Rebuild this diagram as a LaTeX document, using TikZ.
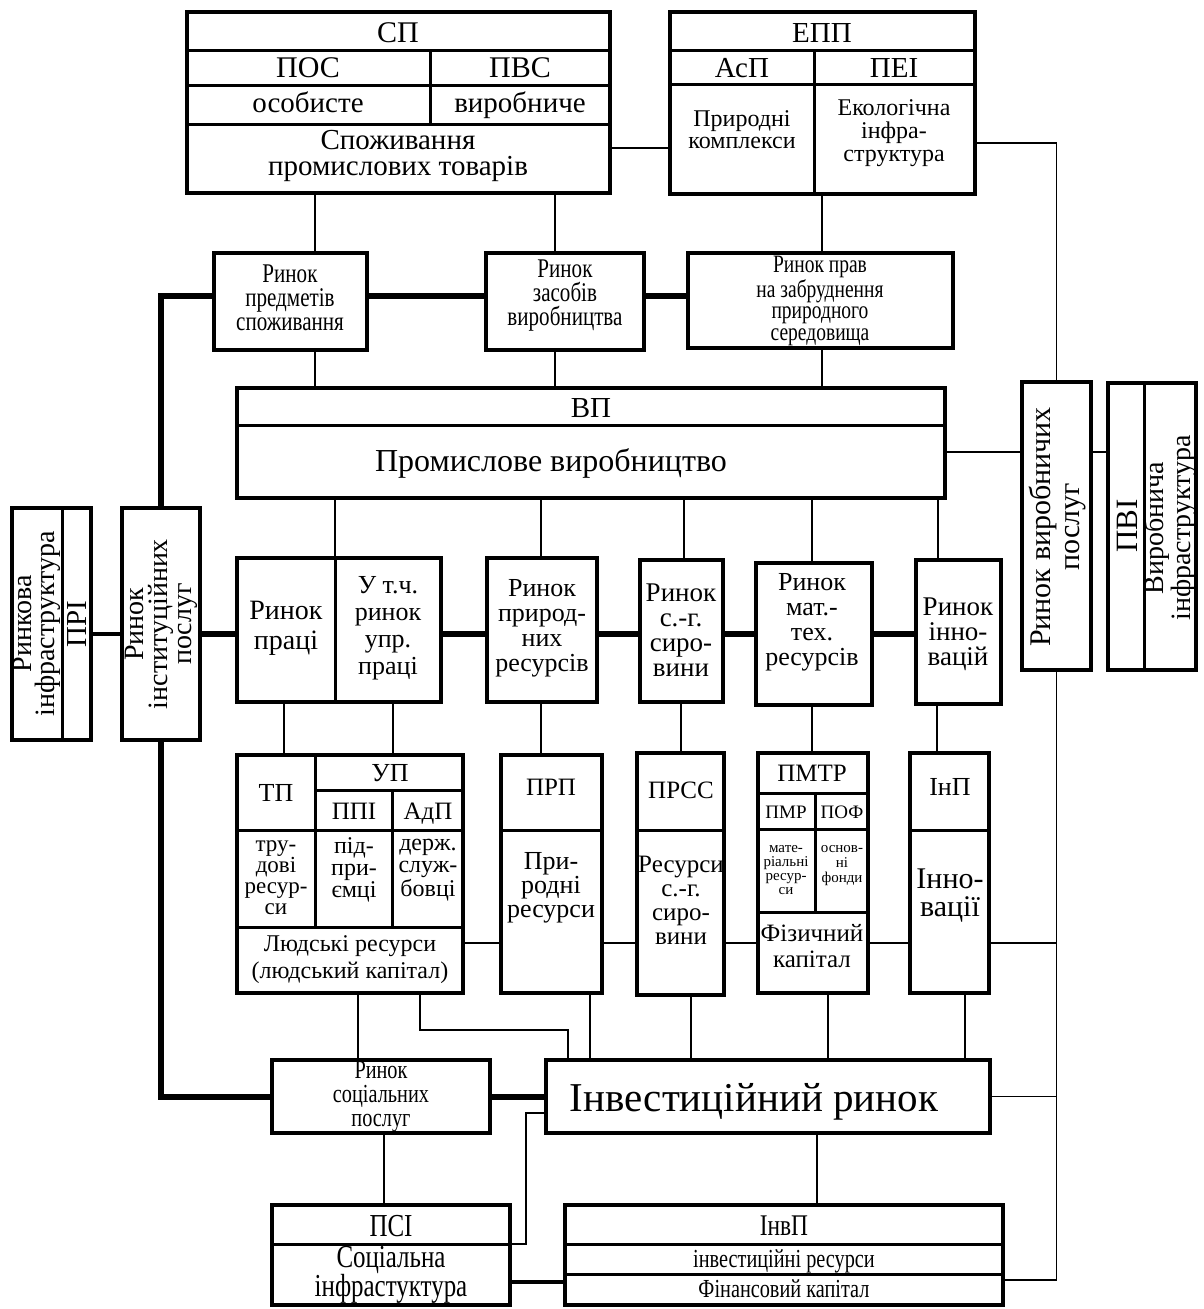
\documentclass[tikz,border=0pt]{standalone}
\usepackage{fontspec}
\setmainfont{Liberation Serif}
\newfontfamily\cond[FakeStretch=0.78]{Liberation Serif}
\newcommand\myf[2]{\fontsize{#1}{#2}\selectfont}
\newcommand\mybox[5]{\node[box, minimum width={(#4)-(#2)}, minimum height={(#5)-(#3)}] (#1) at ({((#2)+(#4))/2},{((#3)+(#5))/2}) {};}
\begin{document}
\begin{tikzpicture}[x=1pt,y=-1pt,
  box/.style={draw, line width=3.6pt, inner sep=0pt, outer sep=0pt},
  txt/.style={align=center, inner sep=0pt},
  btxt/.style={inner sep=0pt, anchor=base},
  divl/.style={line width=3pt},
  thinl/.style={line width=1.6pt},
  thickl/.style={line width=6pt},
  midl/.style={line width=3.6pt}]
\fill[white] (0,0) rectangle (1204,1309);
\useasboundingbox (0,0) rectangle (1204,1309);
% helper coordinates
\foreach \xx in {315,555,822,335,541,684,812,938,284,393,681,937,358,420,568,590,691,828,965,384,817,526}{\coordinate (X\xx) at (\xx,0);}
\foreach \yy in {143,148,296,452,634,943,1030,1113,1244,1280,1282}{\coordinate (Y\yy) at (0,\yy);}

% ---------- top boxes
\mybox{sp}{187}{12}{610}{193}
\draw[divl] (187,50) -- (610,50) (187,85) -- (610,85) (187,124) -- (610,124) (430,50) -- (430,124);
\node[btxt,font=\myf{30}{28}] (tsp) at (398,42) {СП};
\node[btxt,font=\myf{30}{28}] (tpos) at (308,77) {ПОС};
\node[btxt,font=\myf{30}{28}] (tpvs) at (520,77) {ПВС};
\node[btxt,font=\myf{29}{28}] (tos) at (308,112) {особисте};
\node[btxt,font=\myf{29}{28}] (tvyr) at (520,112) {виробниче};
\node[txt,font=\myf{29}{26}] (tspoz) at (398,156) {Споживання\\промислових товарів};

\mybox{epp}{670}{12}{975}{194}
\draw[divl] (670,50) -- (975,50) (670,84) -- (975,84) (814,50) -- (814,194);
\node[btxt,font=\myf{29}{28}] (tepp) at (822,42) {ЕПП};
\node[btxt,font=\myf{29}{28}] (tasp) at (742,77) {АсП};
\node[btxt,font=\myf{29}{28}] (tpei) at (894,77) {ПЕІ};
\node[txt,font=\myf{24}{22}] (tprk) at (742,130) {Природні\\комплекси};
\node[txt,font=\myf{24}{23}] (teko) at (894,133) {Екологічна\\інфра-\\структура};

% ---------- second row markets
\mybox{rpc}{214}{253}{367}{350}
\node[txt,font=\cond\myf{27}{24}] (trpc) at (290,298) {Ринок\\предметів\\споживання};
\mybox{rzv}{486}{253}{644}{350}
\node[txt,font=\cond\myf{27}{24}] (trzv) at (565,296) {Ринок\\засобів\\виробництва};
\mybox{rpz}{688}{253}{953}{348}
\node[txt,font=\cond\myf{25}{21.5}] (trpz) at (820,301) {Ринок прав\\на забруднення\\природного\\середовища};

% ---------- VP
\mybox{vp}{237}{388}{945}{498}
\draw[divl] (237,425) -- (945,425);
\node[btxt,font=\myf{29}{28}] (tvp) at (591,417) {ВП};
\node[btxt,font=\myf{32}{30}] (tpv) at (551,471) {Промислове виробництво};

% ---------- left vertical boxes
\mybox{ip}{122}{508}{200}{740}
\node[txt,rotate=90,font=\myf{28}{24}] (tip) at (161,624) {Ринок\\інституційних\\послуг};
\mybox{pri}{12}{508}{91}{740}
\draw[divl] (62,508) -- (62,740);
\node[txt,rotate=90,font=\myf{28}{23}] (tpri1) at (37,624) {Ринкова\\інфраструктура};
\node[txt,rotate=90,font=\myf{29}{28}] (tpri2) at (77,624) {ПРІ};

% ---------- right vertical boxes
\mybox{rvp}{1022}{382}{1091}{670}
\node[txt,rotate=90,font=\myf{30}{29}] (trvp) at (1057,527) {Ринок виробничих\\послуг};
\mybox{pvi}{1108}{383}{1196}{670}
\draw[divl] (1144,383) -- (1144,670);
\node[txt,rotate=90,font=\myf{31}{28}] (tpvi1) at (1127,526) {ПВІ};
\node[txt,rotate=90,font=\myf{28}{25}] (tpvi2) at (1170,528) {Виробнича\\інфраструктура};

% ---------- markets row
\mybox{rp}{237}{558}{441}{702}
\draw[divl] (335,558) -- (335,702);
\node[txt,font=\myf{28}{30}] (trp1) at (286,628) {Ринок\\праці};
\node[txt,font=\myf{26}{27}] (trp2) at (388,628) {У т.ч.\\ринок\\упр.\\праці};
\mybox{rpr}{487}{558}{597}{702}
\node[txt,font=\myf{26}{25}] (trpr) at (542,628) {Ринок\\природ-\\них\\ресурсів};
\mybox{rsg}{640}{560}{723}{702}
\node[txt,font=\myf{27}{25}] (trsg) at (681,630) {Ринок\\с.-г.\\сиро-\\вини};
\mybox{rmt}{756}{563}{872}{705}
\node[txt,font=\myf{26}{25}] (trmt) at (812,622) {Ринок\\мат.-\\тех.\\ресурсів};
\mybox{rin}{916}{560}{1001}{704}
\node[txt,font=\myf{27}{25}] (trin) at (958,634) {Ринок\\інно-\\вацій};

% ---------- lower boxes
\mybox{tp}{237}{755}{463}{993}
\draw[divl] (237,830) -- (463,830) (237,927) -- (463,927) (315,755) -- (315,927) (392,790) -- (392,927) (315,790) -- (463,790);
\node[btxt,font=\myf{26}{26}] (ttp) at (276,801) {ТП};
\node[btxt,font=\myf{26}{26}] (tup) at (390,781) {УП};
\node[btxt,font=\myf{25}{26}] (tppi) at (354,819) {ППІ};
\node[btxt,font=\myf{25}{26}] (tadp) at (428,819) {АдП};
\node[txt,font=\myf{23}{21}] (ttr) at (276,878) {тру-\\дові\\ресур-\\си};
\node[txt,font=\myf{24}{22}] (tpid) at (354,870) {під-\\при-\\ємці};
\node[txt,font=\myf{24}{22}] (tder) at (428,870) {держ.\\служ-\\бовці};
\node[txt,font=\myf{24}{27}] (tlud) at (350,960) {Людські ресурси\\(людський капітал)};

\mybox{prp}{501}{755}{602}{993}
\draw[divl] (501,830) -- (602,830);
\node[btxt,font=\myf{25}{26}] (tprp) at (551,795) {ПРП};
\node[txt,font=\myf{26}{24}] (tprr) at (551,888) {При-\\родні\\ресурси};

\mybox{prss}{637}{753}{724}{995}
\draw[divl] (637,830) -- (724,830);
\node[btxt,font=\myf{25}{26}] (tprss) at (681,798) {ПРСС};
\node[txt,font=\myf{25}{24}] (trss) at (681,900) {Ресурси\\с.-г.\\сиро-\\вини};

\mybox{pmtr}{758}{753}{868}{993}
\draw[divl] (758,793) -- (868,793) (758,829) -- (868,829) (758,912) -- (868,912) (815,793) -- (815,912);
\node[btxt,font=\myf{25}{26}] (tpmtr) at (812,781) {ПМТР};
\node[btxt,font=\myf{19}{20}] (tpmr) at (786,818) {ПМР};
\node[btxt,font=\myf{19}{20}] (tpof) at (842,818) {ПОФ};
\node[txt,font=\myf{15}{14}] (tmat) at (786,870) {мате-\\ріальні\\ресур-\\си};
\node[txt,font=\myf{15}{15}] (tosn) at (842,866) {основ-\\ні\\фонди};
\node[txt,font=\myf{25}{26}] (tfiz) at (812,946) {Фізичний\\капітал};

\mybox{inp}{910}{753}{989}{993}
\draw[divl] (910,830) -- (989,830);
\node[btxt,font=\myf{26}{26}] (tinp) at (950,795) {ІнП};
\node[txt,font=\myf{30}{28}] (tinn) at (950,896) {Інно-\\вації};

% ---------- bottom row
\mybox{rsp}{272}{1060}{490}{1133}
\node[txt,font=\cond\myf{26}{24}] (trsp) at (381,1097) {Ринок\\соціальних\\послуг};
\mybox{ir}{546}{1060}{990}{1133}
\node[btxt,font=\myf{41}{40}] (tir) at (754,1111) {Інвестиційний ринок};

\mybox{psi}{272}{1205}{510}{1305}
\draw[divl] (272,1244) -- (510,1244);
\node[btxt,font=\cond\myf{32}{28}] (tpsi) at (391,1236) {ПСІ};
\node[txt,font=\cond\myf{32}{27}] (tsoc) at (391,1275) {Соціальна\\інфрастуктура};

\mybox{invp}{565}{1205}{1003}{1305}
\draw[divl] (565,1244) -- (1003,1244) (565,1274) -- (1003,1274);
\node[btxt,font=\cond\myf{30}{28}] (tinvp) at (784,1235) {ІнвП};
\node[btxt,font=\cond\myf{26}{26}] (tinvr) at (784,1267) {інвестиційні ресурси};
\node[btxt,font=\cond\myf{26}{26}] (tfin) at (784,1297) {Фінансовий капітал};

% ================= connectors
% top
\draw[thinl] (sp.east |- Y148) -- (epp.west |- Y148);
\draw[thinl] (X315 |- sp.south) -- (X315 |- rpc.north);
\draw[thinl] (X555 |- sp.south) -- (X555 |- rzv.north);
\draw[thinl] (X822 |- epp.south) -- (X822 |- rpz.north);
\draw[thinl] (X315 |- rpc.south) -- (X315 |- vp.north);
\draw[thinl] (X555 |- rzv.south) -- (X555 |- vp.north);
\draw[thinl] (X822 |- rpz.south) -- (X822 |- vp.north);
\draw[thickl] (rpc.east |- Y296) -- (rzv.west |- Y296);
\draw[thickl] (rzv.east |- Y296) -- (rpz.west |- Y296);
\draw[thickl] (rpc.west |- Y296) -| (ip.north);
\draw[thickl] (ip.south) |- (rsp.west);
\draw[midl] (pri.east |- Y634) -- (ip.west |- Y634);
% right spine
\draw[thinl] (epp.east |- Y143) -| (rvp.north);
\draw[thinl] (rvp.south) |- (invp.east |- Y1280);
\draw[thinl] (vp.east |- Y452) -- (rvp.west |- Y452);
\draw[thinl] (rvp.east |- Y452) -- (pvi.west |- Y452);
% markets row
\draw[thickl] (ip.east |- Y634) -- (rp.west |- Y634);
\draw[thickl] (rp.east |- Y634) -- (rpr.west |- Y634);
\draw[thickl] (rpr.east |- Y634) -- (rsg.west |- Y634);
\draw[thickl] (rsg.east |- Y634) -- (rmt.west |- Y634);
\draw[thickl] (rmt.east |- Y634) -- (rin.west |- Y634);
\draw[thinl] (X335 |- vp.south) -- (X335 |- rp.north);
\draw[thinl] (X541 |- vp.south) -- (X541 |- rpr.north);
\draw[thinl] (X684 |- vp.south) -- (X684 |- rsg.north);
\draw[thinl] (X812 |- vp.south) -- (X812 |- rmt.north);
\draw[thinl] (X938 |- vp.south) -- (X938 |- rin.north);
\draw[thinl] (X284 |- rp.south) -- (X284 |- tp.north);
\draw[thinl] (X393 |- rp.south) -- (X393 |- tp.north);
\draw[thinl] (X541 |- rpr.south) -- (X541 |- prp.north);
\draw[thinl] (X681 |- rsg.south) -- (X681 |- prss.north);
\draw[thinl] (X812 |- rmt.south) -- (X812 |- pmtr.north);
\draw[thinl] (X937 |- rin.south) -- (X937 |- inp.north);
% lower row
\draw[thinl] (tp.east |- Y943) -- (prp.west |- Y943);
\draw[thinl] (prp.east |- Y943) -- (prss.west |- Y943);
\draw[thinl] (prss.east |- Y943) -- (pmtr.west |- Y943);
\draw[thinl] (pmtr.east |- Y943) -- (inp.west |- Y943);
\draw[thinl] (inp.east |- Y943) -- (rvp.south |- Y943);
% bottom
\draw[thinl] (X358 |- tp.south) -- (X358 |- rsp.north);
\draw[thinl] (X420 |- tp.south) |- (X568 |- Y1030) -- (X568 |- ir.north);
\draw[thinl] (X590 |- prp.south) -- (X590 |- ir.north);
\draw[thinl] (X691 |- prss.south) -- (X691 |- ir.north);
\draw[thinl] (X828 |- pmtr.south) -- (X828 |- ir.north);
\draw[thinl] (X965 |- inp.south) -- (X965 |- ir.north);
\draw[thickl] (rsp.east) -- (ir.west |- rsp.east);
\draw[thinl] (ir.east) -- (rvp.south |- ir.east);
\draw[thinl] (X384 |- rsp.south) -- (X384 |- psi.north);
\draw[thinl] (X817 |- ir.south) -- (X817 |- invp.north);
\draw[thinl] (ir.west |- Y1113) -| (X526 |- Y1244) -- (psi.east |- Y1244);
\draw[midl] (psi.east |- Y1282) -- (invp.west |- Y1282);
\end{tikzpicture}
\end{document}
